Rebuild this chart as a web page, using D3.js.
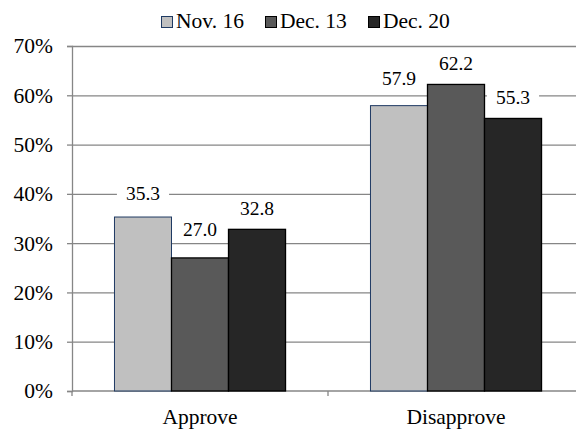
<!DOCTYPE html>
<html>
<head>
<meta charset="utf-8">
<script src="https://cdn.jsdelivr.net/npm/d3@7/dist/d3.min.js"></script>
<style>
  html, body { margin: 0; padding: 0; background: #ffffff; }
  svg text { font-family: "Times New Roman", "Liberation Serif", Times, serif; }
</style>
</head>
<body>
<svg id="chart" width="576" height="429"></svg>
<script>
// Poll results: share approving / disapproving, three survey dates
const categories = ["Approve", "Disapprove"];
const seriesNames = ["Nov. 16", "Dec. 13", "Dec. 20"];
const nov16 = [35.3, 57.9];
const dec13 = [27.0, 62.2];
const dec20 = [32.8, 55.3];
const yTicks = [0, 10, 20, 30, 40, 50, 60, 70];

const seriesValues = [nov16, dec13, dec20];
const fills = ["#c0c0c0", "#595959", "#262626"];
const strokes = ["#1f3a63", "#000000", "#000000"];
// vertical gap (px) between each bar top and the centre of its value label
const labelLift = [[24, 27], [29, 21], [21, 21]];

const FONT = '"Times New Roman", "Liberation Serif", Times, serif';
const svg = d3.select("#chart");
const margin = { left: 72, right: -8, top: 46, bottom: 38 };
const W = 576, H = 429;
const x0 = margin.left, x1 = W - margin.right;
const yTop = margin.top, yBot = H - margin.bottom;

const x = d3.scaleBand().domain(categories).range([x0, x1]).padding(0);
const xs = d3.scaleBand().domain(seriesNames).range([0, x.bandwidth()])
  .paddingInner(0).paddingOuter(0.745);
const y = d3.scaleLinear().domain([0, 70]).range([yBot, yTop]);

const gridColor = "#868686";

// horizontal gridlines with short outer ticks
const yAxis = d3.axisLeft(y).tickValues(yTicks).tickSize(5)
  .tickFormat(d => d + "%");
const gy = svg.append("g").attr("transform", `translate(${x0},0)`).call(yAxis)
  .attr("font-family", FONT);
gy.select(".domain").attr("stroke", gridColor).attr("stroke-width", 1.3);
gy.selectAll(".tick line").attr("stroke", gridColor).attr("stroke-width", 1.3);
gy.selectAll(".tick text").attr("fill", "#000").attr("font-size", 21.5)
  .style("font-family", FONT).attr("x", -19);
gy.selectAll(".tick").filter(d => d > 0).append("line")
  .attr("x1", 0).attr("x2", x1 - x0).attr("stroke", gridColor).attr("stroke-width", 1.3);

// category axis with ticks between groups
const gx = svg.append("g").attr("transform", `translate(0,${yBot})`);
gx.append("line").attr("x1", x0).attr("x2", x1).attr("stroke", gridColor).attr("stroke-width", 1.3);
const boundaries = [x0].concat(categories.map(c => x(c) + x.bandwidth()));
gx.selectAll("line.sep").data(boundaries).join("line").attr("class", "sep")
  .attr("x1", d => d).attr("x2", d => d).attr("y1", 0).attr("y2", 5)
  .attr("stroke", gridColor).attr("stroke-width", 1.3);
gx.selectAll("text").data(categories).join("text")
  .attr("x", d => x(d) + x.bandwidth() / 2).attr("y", 33)
  .attr("text-anchor", "middle").attr("font-size", 21.5).attr("fill", "#000")
  .style("font-family", FONT)
  .text(d => d);

// bars
const groups = svg.append("g").selectAll("g").data(seriesNames).join("g");
groups.each(function (s, si) {
  d3.select(this).selectAll("rect").data(seriesValues[si]).join("rect")
    .attr("x", (v, ci) => x(categories[ci]) + xs(s))
    .attr("y", v => y(v))
    .attr("width", xs.bandwidth())
    .attr("height", v => yBot - y(v))
    .attr("fill", fills[si])
    .attr("stroke", strokes[si])
    .attr("stroke-width", si === 0 ? 1 : 1.3);
});

// value labels on white backgrounds
const labelG = svg.append("g");
seriesNames.forEach((s, si) => {
  seriesValues[si].forEach((v, ci) => {
    const cx = x(categories[ci]) + xs(s) + xs.bandwidth() / 2;
    const cy = y(v) - labelLift[si][ci];
    const g = labelG.append("g");
    const t = g.append("text").attr("x", cx).attr("y", cy).attr("dy", "0.35em")
      .attr("text-anchor", "middle").attr("font-size", 19.5).attr("fill", "#000")
      .style("font-family", FONT)
      .text(v.toFixed(1));
    const bb = t.node().getBBox();
    g.insert("rect", "text").attr("x", bb.x - 9).attr("y", cy - 11)
      .attr("width", bb.width + 18).attr("height", 22).attr("fill", "#fff");
  });
});

// legend
const legendX = [161, 265, 368];
const leg = svg.append("g");
seriesNames.forEach((s, si) => {
  leg.append("rect").attr("x", legendX[si] + 0.5).attr("y", 16.5)
    .attr("width", 11).attr("height", 11)
    .attr("fill", fills[si]).attr("stroke", strokes[si]).attr("stroke-width", 1);
  leg.append("text").attr("x", legendX[si] + 15).attr("y", 28)
    .attr("font-size", 21.5).attr("fill", "#000")
    .style("font-family", FONT).text(s);
});
</script>
</body>
</html>
